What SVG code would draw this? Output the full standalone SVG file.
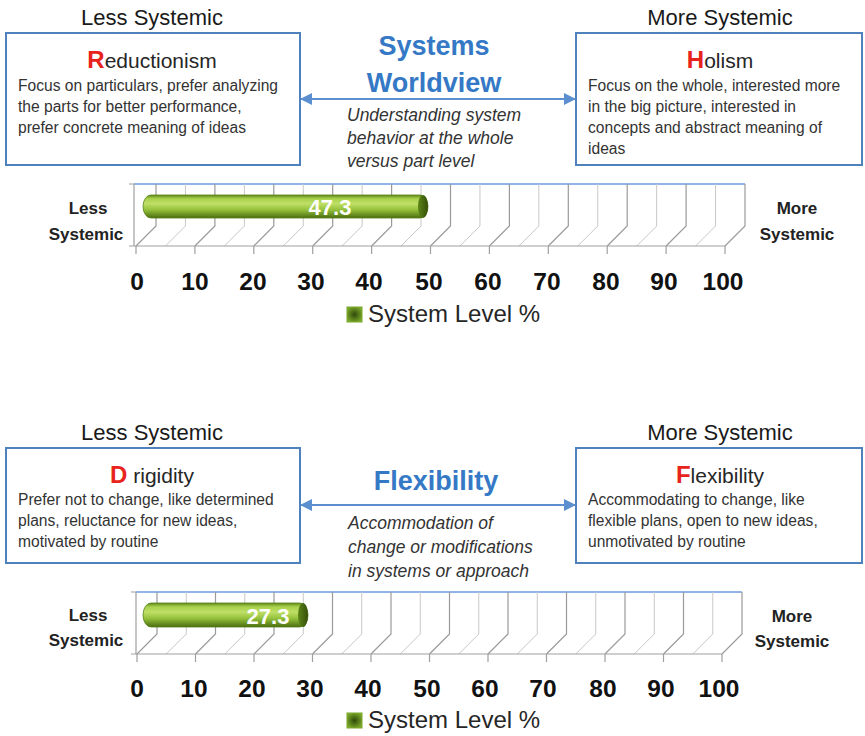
<svg xmlns="http://www.w3.org/2000/svg" xmlns:xlink="http://www.w3.org/1999/xlink" width="865" height="736" viewBox="0 0 865 736">
  <style>
    text { font-family: "Liberation Sans", Arial, sans-serif; fill: #262626; }
    .side { font-size: 22px; text-anchor: middle; fill: #1a1a1a; }
    .box { fill: #ffffff; stroke: #4f81bd; stroke-width: 2; }
    .name { font-size: 21px; text-anchor: middle; fill: #262626; }
    .initial { fill: #e8231c; font-weight: bold; font-size: 24px; }
    .body { font-size: 15.6px; fill: #333333; }
    .theme { font-size: 27px; font-weight: bold; text-anchor: middle; fill: #3579c6; }
    .note { font-size: 17.5px; font-style: italic; fill: #333333; }
    .end { font-size: 17px; font-weight: bold; text-anchor: middle; fill: #222222; }
    .num { font-size: 24.5px; font-weight: bold; text-anchor: middle; fill: #111111; }
    .val { font-size: 22px; font-weight: bold; text-anchor: middle; fill: #ffffff; }
    .legend { font-size: 24px; fill: #262626; }
    .link { stroke: #5b8fd0; stroke-width: 2; fill: none; }
    .major { stroke: #9a9a9a; stroke-width: 1.2; fill: none; }
    .minor { stroke: #c8c8c8; stroke-width: 1; fill: none; }
    .axis { stroke: #a0a0a0; stroke-width: 1.2; fill: none; }
    .top { stroke: #6f9be0; stroke-width: 1.3; }
  </style>
  <defs>
    <marker id="arrow" viewBox="0 0 12 12" refX="11" refY="6" markerWidth="6" markerHeight="6" orient="auto-start-reverse" markerUnits="strokeWidth">
      <path d="M0,0 L12,6 L0,12 Z" fill="#5b8fd0"/>
    </marker>
    <linearGradient id="barFill" x1="0" y1="0" x2="0" y2="1">
      <stop offset="0" stop-color="#5f8a18"/>
      <stop offset="0.16" stop-color="#a9d14e"/>
      <stop offset="0.38" stop-color="#bfdf66"/>
      <stop offset="0.65" stop-color="#93c03a"/>
      <stop offset="1" stop-color="#4a6d10"/>
    </linearGradient>
    <linearGradient id="capFill" x1="0" y1="0" x2="1" y2="0">
      <stop offset="0" stop-color="#5c8418"/>
      <stop offset="1" stop-color="#34500a"/>
    </linearGradient>
    <radialGradient id="keyFill" cx="0.5" cy="0.5" r="0.6">
      <stop offset="0" stop-color="#2f4a0a"/>
      <stop offset="1" stop-color="#7fae2c"/>
    </radialGradient>
    <!-- one back-wall gridline dropping onto the floor -->
    <path id="gl" d="M0,0 V42 l-20,20"/>
  </defs>

  <!-- ============ Systems Worldview ============ -->
  <text class="side" x="152" y="25">Less Systemic</text>
  <text class="side" x="720" y="25">More Systemic</text>

  <g id="reductionism">
    <rect class="box" x="6" y="33" width="294" height="132"/>
    <text class="name" x="152" y="68"><tspan class="initial">R</tspan>eductionism</text>
    <text class="body" x="18" y="91">Focus on particulars, prefer analyzing</text>
    <text class="body" x="18" y="112">the parts for better performance,</text>
    <text class="body" x="18" y="133">prefer concrete meaning of ideas</text>
  </g>

  <g id="holism">
    <rect class="box" x="576" y="33" width="286" height="132"/>
    <text class="name" x="720" y="68"><tspan class="initial">H</tspan>olism</text>
    <text class="body" x="588" y="91">Focus on the whole, interested more</text>
    <text class="body" x="588" y="112">in the big picture, interested in</text>
    <text class="body" x="588" y="133">concepts and abstract meaning of</text>
    <text class="body" x="588" y="154">ideas</text>
  </g>

  <g id="worldview">
    <text class="theme" x="434" y="55">Systems</text>
    <text class="theme" x="434" y="92">Worldview</text>
    <text class="note" x="347" y="121">Understanding system</text>
    <text class="note" x="347" y="144">behavior at the whole</text>
    <text class="note" x="347" y="167">versus part level</text>
  </g>

  <g id="chart-worldview">
    <line class="top" x1="134" y1="184" x2="745" y2="184"/>
    <g class="major">
      <use xlink:href="#gl" x="156" y="184"/><use xlink:href="#gl" x="214.9" y="184"/>
      <use xlink:href="#gl" x="273.8" y="184"/><use xlink:href="#gl" x="332.7" y="184"/>
      <use xlink:href="#gl" x="391.6" y="184"/><use xlink:href="#gl" x="450.5" y="184"/>
      <use xlink:href="#gl" x="509.4" y="184"/><use xlink:href="#gl" x="568.3" y="184"/>
      <use xlink:href="#gl" x="627.2" y="184"/><use xlink:href="#gl" x="686.1" y="184"/>
      <use xlink:href="#gl" x="745" y="184"/>
    </g>
    <g class="minor">
      <use xlink:href="#gl" x="185.45" y="184"/><use xlink:href="#gl" x="244.35" y="184"/>
      <use xlink:href="#gl" x="303.25" y="184"/><use xlink:href="#gl" x="362.15" y="184"/>
      <use xlink:href="#gl" x="421.05" y="184"/><use xlink:href="#gl" x="479.95" y="184"/>
      <use xlink:href="#gl" x="538.85" y="184"/><use xlink:href="#gl" x="597.75" y="184"/>
      <use xlink:href="#gl" x="656.65" y="184"/><use xlink:href="#gl" x="715.55" y="184"/>
    </g>
    <path class="axis" d="M129,184 H134 V246 H725 M129,246 H134"/>
    <path class="axis" d="M136,246 v8 M194.9,246 v8 M253.8,246 v8 M312.7,246 v8 M371.6,246 v8 M430.5,246 v8 M489.4,246 v8 M548.3,246 v8 M607.2,246 v8 M666.1,246 v8 M725,246 v8"/>
    <rect x="143" y="195" width="285" height="23" rx="8" ry="11.5" fill="url(#barFill)" stroke="#56801a" stroke-width="0.8"/>
    <ellipse cx="423" cy="206.5" rx="5" ry="11.5" fill="url(#capFill)"/>
    <text class="val" x="330" y="215">47.3</text>
    <text class="end" x="88" y="214">Less</text>
    <text class="end" x="86" y="240">Systemic</text>
    <text class="end" x="797" y="214">More</text>
    <text class="end" x="797" y="240">Systemic</text>
    <g>
      <text class="num" x="137" y="290">0</text>
      <text class="num" x="195" y="290">10</text>
      <text class="num" x="253" y="290">20</text>
      <text class="num" x="311" y="290">30</text>
      <text class="num" x="369" y="290">40</text>
      <text class="num" x="429" y="290">50</text>
      <text class="num" x="488" y="290">60</text>
      <text class="num" x="547" y="290">70</text>
      <text class="num" x="606" y="290">80</text>
      <text class="num" x="664" y="290">90</text>
      <text class="num" x="723" y="290">100</text>
    </g>
    <rect x="347" y="307" width="15" height="15" fill="url(#keyFill)" stroke="#7aa82c" stroke-width="1"/>
    <text class="legend" x="368" y="322">System Level %</text>
  </g>

  <!-- ============ Flexibility ============ -->
  <text class="side" x="152" y="440">Less Systemic</text>
  <text class="side" x="720" y="440">More Systemic</text>

  <g id="rigidity">
    <rect class="box" x="6" y="448" width="294" height="115"/>
    <text class="name" x="152" y="483"><tspan class="initial">D</tspan> rigidity</text>
    <text class="body" x="18" y="505">Prefer not to change, like determined</text>
    <text class="body" x="18" y="526">plans, reluctance for new ideas,</text>
    <text class="body" x="18" y="547">motivated by routine</text>
  </g>

  <g id="flexibility-node">
    <rect class="box" x="576" y="448" width="286" height="115"/>
    <text class="name" x="720" y="483"><tspan class="initial">F</tspan>lexibility</text>
    <text class="body" x="588" y="505">Accommodating to change, like</text>
    <text class="body" x="588" y="526">flexible plans, open to new ideas,</text>
    <text class="body" x="588" y="547">unmotivated by routine</text>
  </g>

  <g id="flexibility">
    <text class="theme" x="436" y="490">Flexibility</text>
    <text class="note" x="348" y="529">Accommodation of</text>
    <text class="note" x="348" y="553">change or modifications</text>
    <text class="note" x="348" y="577">in systems or approach</text>
  </g>

  <g id="chart-flexibility">
    <line class="top" x1="136" y1="592" x2="742" y2="592"/>
    <g class="major">
      <use xlink:href="#gl" x="157" y="592"/><use xlink:href="#gl" x="215.5" y="592"/>
      <use xlink:href="#gl" x="274" y="592"/><use xlink:href="#gl" x="332.5" y="592"/>
      <use xlink:href="#gl" x="391" y="592"/><use xlink:href="#gl" x="449.5" y="592"/>
      <use xlink:href="#gl" x="508" y="592"/><use xlink:href="#gl" x="566.5" y="592"/>
      <use xlink:href="#gl" x="625" y="592"/><use xlink:href="#gl" x="683.5" y="592"/>
      <use xlink:href="#gl" x="742" y="592"/>
    </g>
    <g class="minor">
      <use xlink:href="#gl" x="186.25" y="592"/><use xlink:href="#gl" x="244.75" y="592"/>
      <use xlink:href="#gl" x="303.25" y="592"/><use xlink:href="#gl" x="361.75" y="592"/>
      <use xlink:href="#gl" x="420.25" y="592"/><use xlink:href="#gl" x="478.75" y="592"/>
      <use xlink:href="#gl" x="537.25" y="592"/><use xlink:href="#gl" x="595.75" y="592"/>
      <use xlink:href="#gl" x="654.25" y="592"/><use xlink:href="#gl" x="712.75" y="592"/>
    </g>
    <path class="axis" d="M131,592 H136 V654 H722 M131,654 H136"/>
    <path class="axis" d="M137,654 v8 M195.5,654 v8 M254,654 v8 M312.5,654 v8 M371,654 v8 M429.5,654 v8 M488,654 v8 M546.5,654 v8 M605,654 v8 M663.5,654 v8 M722,654 v8"/>
    <rect x="143" y="603" width="165" height="24" rx="8" ry="12" fill="url(#barFill)" stroke="#56801a" stroke-width="0.8"/>
    <ellipse cx="303" cy="615" rx="5" ry="12" fill="url(#capFill)"/>
    <text class="val" x="268" y="624">27.3</text>
    <text class="end" x="88" y="621">Less</text>
    <text class="end" x="86" y="646">Systemic</text>
    <text class="end" x="792" y="622">More</text>
    <text class="end" x="792" y="647">Systemic</text>
    <g>
      <text class="num" x="137" y="697">0</text>
      <text class="num" x="194" y="697">10</text>
      <text class="num" x="252" y="697">20</text>
      <text class="num" x="310" y="697">30</text>
      <text class="num" x="368" y="697">40</text>
      <text class="num" x="427" y="697">50</text>
      <text class="num" x="485" y="697">60</text>
      <text class="num" x="543" y="697">70</text>
      <text class="num" x="603" y="697">80</text>
      <text class="num" x="661" y="697">90</text>
      <text class="num" x="719" y="697">100</text>
    </g>
    <rect x="347" y="713" width="15" height="15" fill="url(#keyFill)" stroke="#7aa82c" stroke-width="1"/>
    <text class="legend" x="368" y="728">System Level %</text>
  </g>

  <!-- connectors between the opposing views -->
  <g id="connectors">
    <line class="link" x1="301" y1="99" x2="575" y2="99" marker-start="url(#arrow)" marker-end="url(#arrow)"/>
    <line class="link" x1="301" y1="505" x2="575" y2="505" marker-start="url(#arrow)" marker-end="url(#arrow)"/>
  </g>
</svg>
